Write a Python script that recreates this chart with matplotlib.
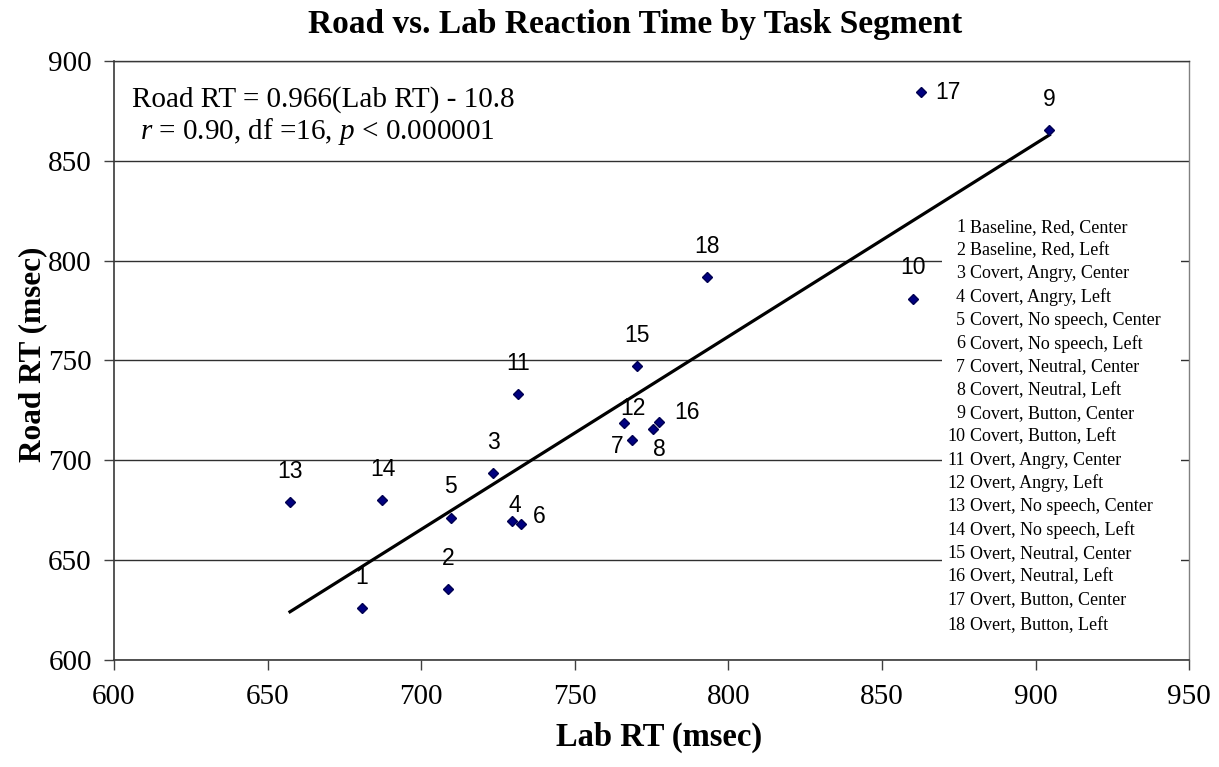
import matplotlib.pyplot as plt
from matplotlib.patches import Rectangle

plt.rcParams['font.family'] = 'Liberation Serif'
plt.rcParams['mathtext.fontset'] = 'custom'
plt.rcParams['mathtext.rm'] = 'Liberation Serif'
plt.rcParams['mathtext.it'] = 'Liberation Serif:italic'

# task segments (1..18)
segment_ids = list(range(1, 19))
segment_names = [
    "Baseline, Red, Center", "Baseline, Red, Left",
    "Covert, Angry, Center", "Covert, Angry, Left",
    "Covert, No speech, Center", "Covert, No speech, Left",
    "Covert, Neutral, Center", "Covert, Neutral, Left",
    "Covert, Button, Center", "Covert, Button, Left",
    "Overt, Angry, Center", "Overt, Angry, Left",
    "Overt, No speech, Center", "Overt, No speech, Left",
    "Overt, Neutral, Center", "Overt, Neutral, Left",
    "Overt, Button, Center", "Overt, Button, Left",
]
lab_rt = [680.6, 708.7, 723.5, 729.6, 709.6, 732.6, 768.7, 775.4, 904.5,
          860.1, 731.6, 766.0, 657.3, 687.4, 770.2, 777.4, 862.6, 792.9]
road_rt = [625.9, 635.4, 693.5, 669.8, 671.3, 668.1, 710.2, 715.5, 865.4,
           780.9, 733.2, 718.7, 679.1, 680.0, 747.2, 719.2, 884.3, 791.8]

slope = 0.966
intercept = -10.8

# label offsets in pixels (dx, dy) from the marker
above = (0, 31)
label_offsets = {1: above, 2: above, 3: above, 4: (3, 15), 5: above,
                 6: (18, 8), 7: (-15, -7), 8: (7, -20), 9: above, 10: above,
                 11: above, 12: (9, 14), 13: above, 14: above, 15: above,
                 16: (28, 9), 17: (27, 0), 18: above}

fig = plt.figure(figsize=(12.19, 7.67), dpi=100)
ax = fig.add_axes([0.0935, 0.1395, 0.882, 0.781])

ax.set_xlim(600, 950)
ax.set_ylim(600, 900)
ax.set_xticks(range(600, 951, 50))
ax.set_yticks(range(600, 901, 50))
ax.yaxis.grid(True, color='#303030', lw=1.0)
ax.set_axisbelow(True)
ax.tick_params(labelsize=21, direction='out', length=7, width=1, color='#404040')
ax.tick_params(axis='x', pad=10)
ax.tick_params(axis='y', pad=9)
for side in ['left', 'bottom', 'top']:
    ax.spines[side].set_color('#383838')
    ax.spines[side].set_linewidth(1.2)
ax.spines['top'].set_linewidth(1.0)
ax.spines['right'].set_color('#808080')
ax.spines['right'].set_linewidth(1.0)

# white box behind the segment key
ax.add_patch(Rectangle((0.770, 0.025), 0.2226, 0.723, transform=ax.transAxes,
                       facecolor='white', edgecolor='none', zorder=1.5))

xs = [min(lab_rt), max(lab_rt)]
ax.plot(xs, [slope * x + intercept for x in xs], color='black', lw=2.3, zorder=3)
ax.plot(lab_rt, road_rt, ls='none', marker='D', ms=5.5, color='#000080',
        mec='#000050', zorder=4)

for i, x, y in zip(segment_ids, lab_rt, road_rt):
    ax.annotate(str(i), (x, y), xytext=label_offsets[i], textcoords='offset pixels',
                ha='center', va='center', fontsize=16.5, family='Liberation Sans', zorder=5)

ax.text(0.0167, 0.935, "Road RT = 0.966(Lab RT) - 10.8", transform=ax.transAxes,
        fontsize=21, ha='left', va='center')
ax.text(0.024, 0.883, r"$r$ = 0.90, df =16, $p$ < 0.000001", transform=ax.transAxes,
        fontsize=21, ha='left', va='center')

key_top = 0.7225
key_step = 23.3 / 599
for k, (i, name) in enumerate(zip(segment_ids, segment_names)):
    y = key_top - k * key_step - (2 / 599 if i == 18 else 0)
    ax.text(0.7916, y, str(i), transform=ax.transAxes, fontsize=13,
            ha='right', va='center', zorder=3)
    ax.text(0.7963, y, name, transform=ax.transAxes, fontsize=13,
            ha='left', va='center', zorder=3)

fig.text(0.521, 1 - 24 / 767, "Road vs. Lab Reaction Time by Task Segment",
         fontsize=24, fontweight='bold', ha='center', va='center')
ax.set_xlabel("Lab RT (msec)", fontsize=23.5, fontweight='bold', va='center')
ax.xaxis.set_label_coords(0.507, -0.130)
ax.set_ylabel("Road RT (msec)", fontsize=22.5, fontweight='bold', va='center')
ax.yaxis.set_label_coords(-0.076, 0.511)

fig.savefig("out.png", dpi=100)
